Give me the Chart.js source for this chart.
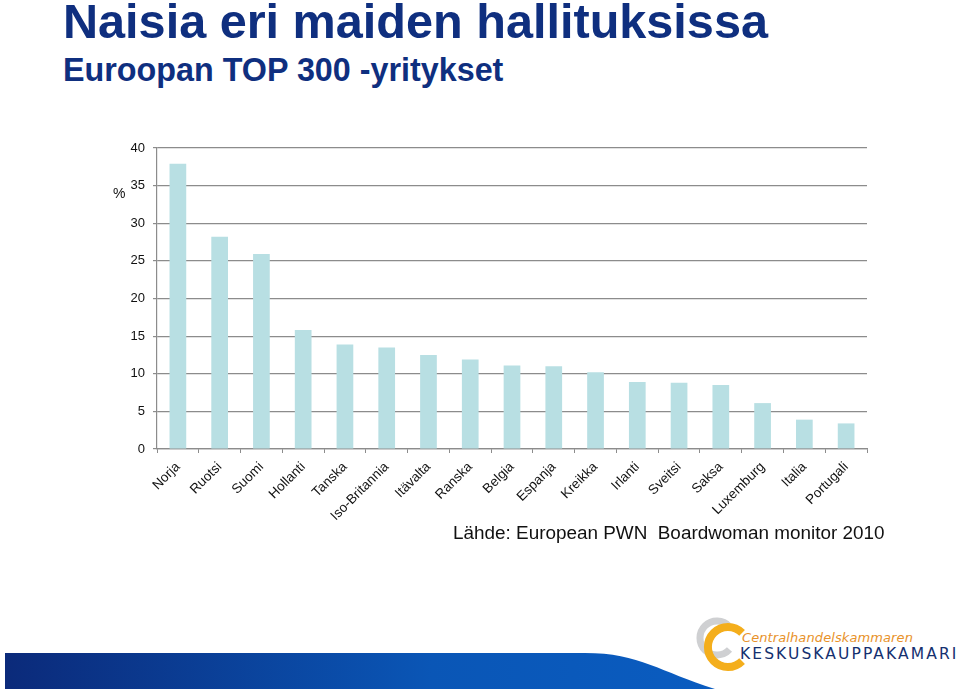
<!DOCTYPE html>
<html>
<head>
<meta charset="utf-8">
<script src="https://cdn.jsdelivr.net/npm/chart.js@4.4.1/dist/chart.umd.min.js"></script>
<style>
  html, body { margin: 0; padding: 0; background: #fff; }
  body { width: 960px; height: 691px; position: relative; overflow: hidden; font-family: "Liberation Sans", Arial, sans-serif; }
  #title { position: absolute; left: 63px; top: -2.6px; font-size: 48.6px; line-height: 1; font-weight: bold; color: #0f2f7f; white-space: nowrap; }
  #subtitle { position: absolute; left: 63px; top: 54.3px; font-size: 32.3px; line-height: 1; font-weight: bold; color: #0f2f7f; white-space: nowrap; }
  #chartWrap { position: absolute; left: 0; top: 0; width: 960px; height: 560px; }
  #pct { position: absolute; left: 113px; top: 186px; font-size: 14px; line-height: 1; color: #111; }
  #source { position: absolute; left: 453px; top: 524px; font-size: 18.9px; line-height: 1; color: #111; white-space: nowrap; }
  #band { position: absolute; left: 0; top: 600px; }
  #logoC { position: absolute; left: 690px; top: 610px; }
  #logo1 { position: absolute; left: 742px; top: 631px; font-size: 13px; line-height: 1; font-style: italic; color: #e8922a; letter-spacing: 0.1px; white-space: nowrap; font-family: "DejaVu Sans", sans-serif; }
  #logo2 { position: absolute; left: 740px; top: 646.5px; font-size: 15.5px; line-height: 1; color: #14306f; letter-spacing: 2.1px; white-space: nowrap; font-family: "DejaVu Sans", sans-serif; }
</style>
</head>
<body>
<div id="title">Naisia eri maiden hallituksissa</div>
<div id="subtitle">Euroopan TOP 300 -yritykset</div>
<div id="chartWrap"><canvas id="c" width="960" height="560"></canvas></div>
<div id="pct">%</div>
<div id="source">Lähde: European PWN&nbsp; Boardwoman monitor 2010</div>

<svg id="band" width="960" height="91" viewBox="0 600 960 91">
  <defs>
    <linearGradient id="g" x1="0" y1="0" x2="1" y2="0">
      <stop offset="0" stop-color="#0b2a7a"/>
      <stop offset="0.6" stop-color="#0a56b6"/>
      <stop offset="1" stop-color="#0a5cc0"/>
    </linearGradient>
  </defs>
  <path d="M5 653 L585 653 C640 653 660 672 715 689 L5 689 Z" fill="url(#g)"/>
</svg>
<svg id="logoC" width="60" height="80" viewBox="690 610 60 80">
  <path d="M729.5 626.5 A17 17 0 1 0 729.5 649.5" fill="none" stroke="#cfd0d2" stroke-width="7"/>
  <path d="M742.1 632.9 A20 20 0 1 0 742.1 661.1" fill="none" stroke="#f4ae1c" stroke-width="8"/>
</svg>
<div id="logo1">Centralhandelskammaren</div>
<div id="logo2">KESKUSKAUPPAKAMARI</div>

<script>
const categories = ["Norja","Ruotsi","Suomi","Hollanti","Tanska","Iso-Britannia","Itävalta","Ranska","Belgia","Espanja","Kreikka","Irlanti","Sveitsi","Saksa","Luxemburg","Italia","Portugali"];
const values = [37.9, 28.2, 25.9, 15.8, 13.9, 13.5, 12.5, 11.9, 11.1, 11.0, 10.2, 8.9, 8.8, 8.5, 6.1, 3.9, 3.4];
const yTicks = [0, 5, 10, 15, 20, 25, 30, 35, 40];

const ctx = document.getElementById('c').getContext('2d');
new Chart(ctx, {
  type: 'bar',
  data: {
    labels: categories,
    datasets: [{
      data: values,
      backgroundColor: '#b8dfe3',
      borderWidth: 0,
      barPercentage: 0.4,
      categoryPercentage: 1.0
    }]
  },
  options: {
    responsive: false,
    devicePixelRatio: 1,
    animation: false,
    layout: { padding: { left: 0, right: 93, top: 148, bottom: 0 } },
    plugins: { legend: { display: false }, tooltip: { enabled: false } },
    scales: {
      x: {
        grid: { display: true, drawOnChartArea: false, drawTicks: true, tickLength: 4, color: '#8c8c8c', offset: true },
        border: { display: true, color: '#8c8c8c', width: 1.2 },
        ticks: {
          autoSkip: false, maxRotation: 45, minRotation: 45, padding: 6,
          color: '#111', font: { family: 'Liberation Sans, Arial', size: 13.5 }
        },
        afterFit: (s) => { s.height = 111; }
      },
      y: {
        min: 0, max: 40,
        afterBuildTicks: (s) => { s.ticks = yTicks.map(v => ({ value: v })); },
        grid: { color: '#8c8c8c', lineWidth: 1.2, tickLength: 4 },
        border: { display: true, color: '#8c8c8c', width: 1.2 },
        ticks: { padding: 8, color: '#111', font: { family: 'Liberation Sans, Arial', size: 13 } },
        afterFit: (s) => { s.width = 157; }
      }
    }
  }
});
</script>
</body>
</html>
